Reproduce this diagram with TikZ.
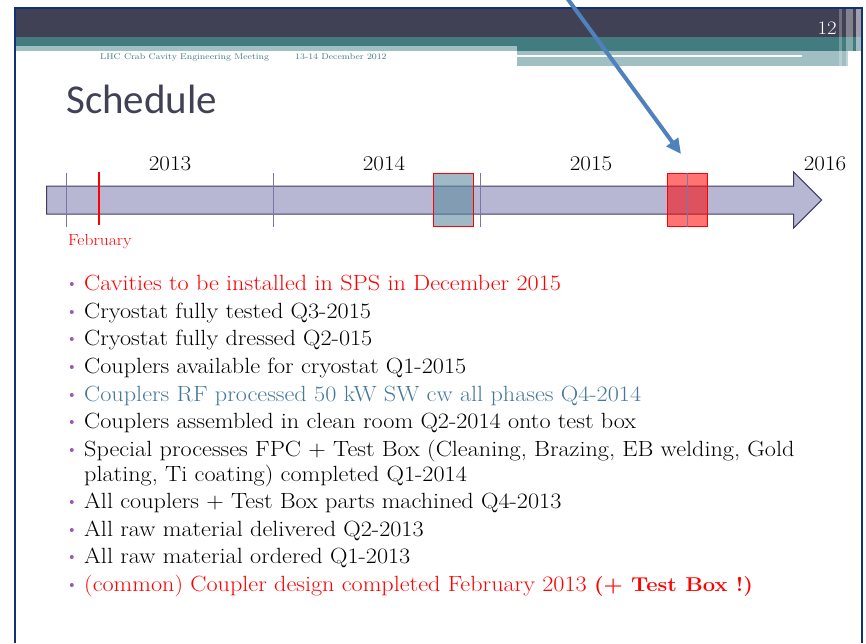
\documentclass[tikz,border=0pt]{standalone}
\usepackage{fontspec}
\newfontfamily\titlefont{Carlito}
\newfontfamily\bodyfont{Latin Modern Roman}[FakeStretch=1.1]
\usetikzlibrary{shapes.arrows, arrows.meta, positioning}
\definecolor{framecol}{RGB}{16,48,122}
\definecolor{darkband}{RGB}{65,65,85}
\definecolor{tealband}{RGB}{67,124,128}
\definecolor{lightband}{RGB}{160,191,195}
\definecolor{barfill}{RGB}{183,183,211}
\definecolor{barline}{RGB}{61,61,98}
\definecolor{tickcol}{RGB}{120,120,168}
\definecolor{steel}{RGB}{70,120,154}
\definecolor{dotcol}{RGB}{155,89,182}
\definecolor{pointercol}{RGB}{79,129,189}
\definecolor{greybox}{RGB}{96,138,160}

\begin{document}
\begin{tikzpicture}[
    x=1pt, y=-1pt,
    every node/.style={inner sep=0},
    footer/.style={anchor=base west, text=tealband, font=\bodyfont\fontsize{8.4}{8.4}\selectfont},
    year/.style={anchor=base, font=\bodyfont\fontsize{21}{21}\selectfont},
    tick/.style={draw=tickcol, line width=1pt},
    slot/.style={draw=red, line width=1pt, minimum width=40pt, minimum height=53pt},
    item/.style={anchor=base west, align=left, font=\bodyfont\fontsize{22}{25}\selectfont},
    dot/.style={circle, fill=dotcol, minimum size=4pt},
    pointer/.style={draw=pointercol, line width=4pt, -{Triangle[length=15pt,width=14pt]}}
    ]

    \useasboundingbox (0,0) rectangle (866,643);

    \fill[darkband] (16,9) rectangle (862,37);
    \fill[tealband] (16,37) rectangle (862,51);
    \fill[lightband] (16,46) rectangle (517,51);
    \fill[lightband] (517,51) rectangle (848,66);
    \fill[white] (517,54.5) rectangle (802,56.5);
    \fill[white, opacity=.25] (839,9) rectangle (842,66);
    \fill[white, opacity=.35] (846,9) rectangle (853,66);
    \fill[white, opacity=.5] (856,9) rectangle (862,66);
    \draw[framecol, line width=2pt] (15,643) -- (15,8) -- (862,8) -- (862,643);

    \node[anchor=base east, text=white, font=\bodyfont\fontsize{19}{19}\selectfont] (page) at (837,34) {12};
    \node[footer] (meeting) at (100,59) {LHC Crab Cavity Engineering Meeting};
    \node[footer] (date) at (295,59) {13-14 December 2012};

    \node[anchor=base west, text=darkband, font=\titlefont\fontsize{41}{41}\selectfont] (title) at (66,113) {Schedule};

    \node[single arrow, draw=barline, fill=barfill, line width=1pt, inner xsep=0pt, inner ysep=13.5pt,
      minimum height=775pt, single arrow head extend=14pt, single arrow head indent=0pt, anchor=west] (timeline) at (46,200) {};

    \draw[tick] (66,173) -- (66,227);
    \draw[tick] (273,173) -- (273,227);
    \draw[tick] (480,173) -- (480,227);
    \draw[red, line width=2pt] (99,172) -- (99,225);

    \node[slot, fill=greybox, fill opacity=.6] (q4box) at (453,199.5) {};
    \node[slot, fill=red, fill opacity=.55] (q4end) at (687,200) {};
    \draw[tick] (687,173) -- (687,227);

    \node[year] (y13) at (170,170) {2013};
    \node[year] (y14) at (384,170) {2014};
    \node[year] (y15) at (591,170) {2015};
    \node[year] (y16) at (825,170) {2016};
    \node[anchor=base west, text=red, font=\bodyfont\fontsize{16}{16}\selectfont] (feb) at (68,245) {February};

    \coordinate (from) at (567,-2);
    \coordinate (to) at (681,154);
    \draw[pointer] (from) -- (to);

    \node[item, text=red] (i1) at (84,290) {Cavities to be installed in SPS in December 2015};
    \node[item] (i2) at (84,318) {Cryostat fully tested Q3-2015};
    \node[item] (i3) at (84,345) {Cryostat fully dressed Q2-015};
    \node[item] (i4) at (84,373) {Couplers available for cryostat Q1-2015};
    \node[item, text=steel] (i5) at (84,401) {Couplers RF processed 50 kW SW cw all phases Q4-2014};
    \node[item] (i6) at (84,428) {Couplers assembled in clean room Q2-2014 onto test box};
    \node[item] (i7) at (84,481) {Special processes FPC + Test Box (Cleaning, Brazing, EB welding, Gold\\plating, Ti coating) completed Q1-2014};
    \node[item] (i8) at (84,508) {All couplers + Test Box parts machined Q4-2013};
    \node[item] (i9) at (84,536) {All raw material delivered Q2-2013};
    \node[item] (i10) at (84,563) {All raw material ordered Q1-2013};
    \node[item, text=red] (i11) at (84,591) {(common) Coupler design completed February 2013 {\bfseries\fontsize{20}{25}\selectfont(+ Test Box !)}};

    \node[dot, left=10pt of i1.base west, yshift=6pt] (b1) {};
    \node[dot, left=10pt of i2.base west, yshift=6pt] (b2) {};
    \node[dot, left=10pt of i3.base west, yshift=6pt] (b3) {};
    \node[dot, left=10pt of i4.base west, yshift=6pt] (b4) {};
    \node[dot, left=10pt of i5.base west, yshift=6pt] (b5) {};
    \node[dot, left=10pt of i6.base west, yshift=6pt] (b6) {};
    \node[dot, left=10pt of i7.base west, yshift=31pt] (b7) {};
    \node[dot, left=10pt of i8.base west, yshift=6pt] (b8) {};
    \node[dot, left=10pt of i9.base west, yshift=6pt] (b9) {};
    \node[dot, left=10pt of i10.base west, yshift=6pt] (b10) {};
    \node[dot, left=10pt of i11.base west, yshift=6pt] (b11) {};
\end{tikzpicture}
\end{document}
